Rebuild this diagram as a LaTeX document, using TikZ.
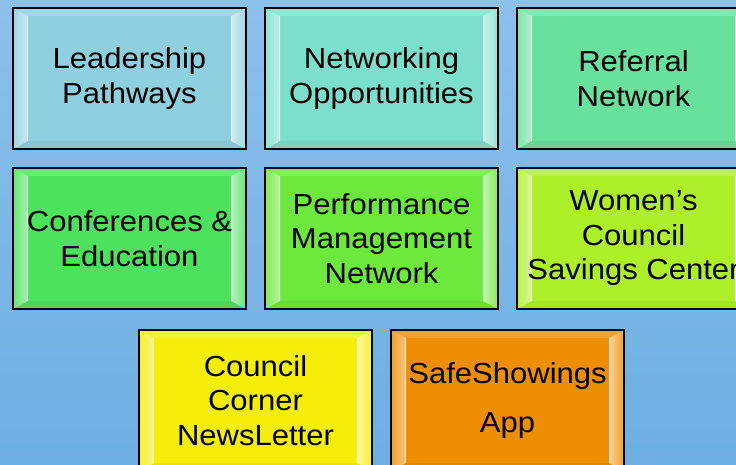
\documentclass[tikz,border=0pt]{standalone}
\usepackage{fontspec}
\setmainfont[FakeStretch=1.07]{Liberation Sans}
\usetikzlibrary{calc}

\definecolor{BgTop}{HTML}{8DC0EB}
\definecolor{BgBottom}{HTML}{6DAEE3}
\definecolor{TileA}{HTML}{8ED0DF}
\definecolor{TileB}{HTML}{7BDFCB}
\definecolor{TileC}{HTML}{68E19D}
\definecolor{TileD}{HTML}{4DE25E}
\definecolor{TileE}{HTML}{6DE83C}
\definecolor{TileF}{HTML}{ADF02A}
\definecolor{TileG}{HTML}{F5EE0A}
\definecolor{TileH}{HTML}{EE8E02}

\newcommand\tilefont{\fontsize{29}{34.5}\selectfont}

\tikzset{
  tile/.style={draw=black, line width=1.6pt, fill=#1, inner sep=0pt,
    minimum width=233pt, minimum height=141pt, align=center, font=\tilefont,
    path picture={
      \coordinate (tl) at (path picture bounding box.north west);
      \coordinate (tr) at (path picture bounding box.north east);
      \coordinate (bl) at (path picture bounding box.south west);
      \coordinate (br) at (path picture bounding box.south east);
      \fill[#1!82!white] (tl) -- ($(tl)+(15,-8)$) -- ($(tr)+(-15,-8)$) -- (tr) -- cycle;
      \fill[#1!95!black] (bl) -- ($(bl)+(15,8)$) -- ($(br)+(-15,8)$) -- (br) -- cycle;
      \shade[left color=#1!85!white, right color=#1!50!white]
        (bl) -- ($(bl)+(15,8)$) -- ($(tl)+(15,-8)$) -- (tl) -- cycle;
      \shade[left color=#1!40!white, right color=#1!85!white]
        (br) -- ($(br)+(-15,8)$) -- ($(tr)+(-15,-8)$) -- (tr) -- cycle;
      \draw[white, line width=1pt, opacity=.7]
        ($(bl)+(14.5,8)$) -- ($(tl)+(14.5,-8)$);
      \draw[white, line width=1pt, opacity=.7]
        ($(br)+(-14.5,8)$) -- ($(tr)+(-14.5,-8)$);
    }}
}

\begin{document}
\begin{tikzpicture}[x=1pt,y=1pt]
  \useasboundingbox (0,0) rectangle (736,464);
  \clip (0,0) rectangle (736,464);
  \shade[top color=BgTop, bottom color=BgBottom] (0,0) rectangle (736,464);
  % first row
  \node[tile=TileA] (leader) at (129.5,385.5) {Leadership\\Pathways};
  \node[tile=TileB] (netwk) at (381.5,385.5) {Networking\\Opportunities};
  \node[tile=TileC] (referral) at (633.5,385.5) {Referral\\Network};
  % second row
  \node[tile=TileD] (confed) at (129.5,225.5) {Conferences \&\\Education};
  \node[tile=TileE] (perfmgmt) at (381.5,225.5) {Performance\\Management\\Network};
  \node[tile=TileF] (savings) at (633.5,225.5) {Women’s\\Council\\Savings Center};
  % third row
  \node[tile=TileG] (newsletter) at (255.5,63.5) {Council\\Corner\\NewsLetter};
  \node[tile=TileH] (safeshow) at (507.5,63.5) {SafeShowings\\[14pt]App};
\end{tikzpicture}
\end{document}
